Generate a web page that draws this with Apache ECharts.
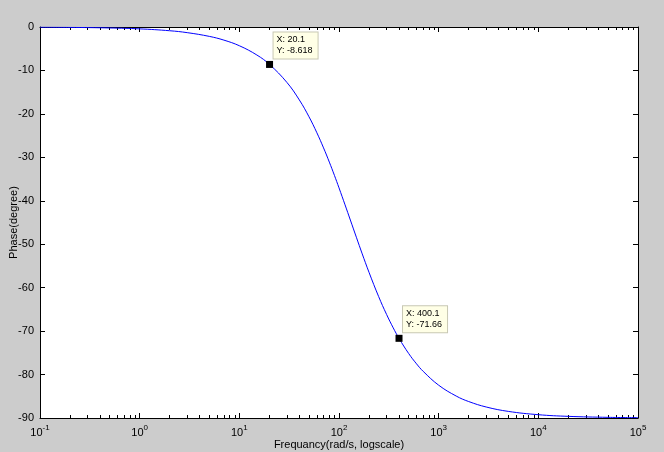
<!DOCTYPE html>
<html>
<head>
<meta charset="utf-8">
<script src="https://cdn.jsdelivr.net/npm/echarts@6/dist/echarts.min.js"></script>
<style>
html,body{margin:0;padding:0;background:#cccccc;}
#c{width:664px;height:452px;}
</style>
</head>
<body>
<div id="c"></div>
<script>
// Data
var freq = [0.1,0.2,0.5,1,2,3,5,7,10,15,20,30,40,50,60,70,80,90,100,115,130,150,170,200,250,300,350,400,500,600,700,1000,1500,2000,3000,5000,10000,20000,50000,100000];
var phase = [-0.04,-0.09,-0.22,-0.43,-0.86,-1.30,-2.16,-3.02,-4.31,-6.45,-8.58,-12.75,-16.79,-20.66,-24.35,-27.83,-31.10,-34.16,-37.02,-40.94,-44.43,-48.52,-52.05,-56.46,-62.06,-66.15,-69.25,-71.67,-75.15,-77.54,-79.27,-82.45,-84.95,-86.21,-87.47,-88.48,-89.24,-89.62,-89.85,-89.92];
var tipX = [20.1, 400.1];
var tipY = [-8.618, -71.66];
var decades = [0.1,1,10,100,1000,10000,100000];
var decadeExp = ['-1','0','1','2','3','4','5'];
var minorTicks = [];
[0.1,1,10,100,1000,10000].forEach(function(d){ for (var k=2;k<=9;k++) minorTicks.push(+(d*k).toPrecision(6)); });

var chart = echarts.init(document.getElementById('c'), null, {renderer:'canvas'});
var font = 'Liberation Sans, Arial, sans-serif';
function expLabel(v){
  var i = -1;
  for (var j=0;j<decades.length;j++){ if (Math.abs(Math.log10(v)-Math.log10(decades[j]))<1e-6) i=j; }
  if (i<0) return '';
  return '{b|10}{s|' + decadeExp[i] + '}';
}
var lineStyle = {color:'#000', width:1};
function xa(pos, major, labels){
  return {
    type:'log', logBase:10, min:0.1, max:100000, position:pos,
    axisLine:{show:major, lineStyle:lineStyle, onZero:false},
    axisTick:{show:true, inside:true, length: major?5:3, lineStyle:lineStyle,
      customValues: major ? decades : minorTicks},
    axisLabel:{show:labels, margin:6, customValues: decades, formatter: expLabel,
      rich:{b:{fontSize:11, fontFamily:font, color:'#000', lineHeight:14, verticalAlign:'bottom'},
            s:{fontSize:8, fontFamily:font, color:'#000', verticalAlign:'top', lineHeight:14}}},
    splitLine:{show:false},
    name: labels ? 'Frequancy(rad/s, logscale)' : '',
    nameLocation:'middle', nameGap:21, nameMoveOverlap:false,
    nameTextStyle:{fontSize:11, fontFamily:font, color:'#000'}
  };
}
var option = {
  backgroundColor:'#cccccc',
  animation:false,
  grid:{left:40, right:26, top:27, bottom:34, show:true, backgroundColor:'#ffffff', borderWidth:0,
        containLabel:false, outerBoundsMode:'none'},
  xAxis:[ xa('bottom', true, true), xa('bottom', false, false), xa('top', true, false), xa('top', false, false) ],
  yAxis:[
    {type:'value', min:-90, max:0, interval:10, position:'left',
     axisLine:{show:true, lineStyle:lineStyle, onZero:false},
     axisTick:{show:true, inside:true, length:5, lineStyle:lineStyle},
     axisLabel:{fontSize:11, fontFamily:font, color:'#000', margin:6},
     splitLine:{show:false},
     name:'Phase(degree)', nameLocation:'middle', nameGap:21, nameMoveOverlap:false,
     nameTextStyle:{fontSize:11, fontFamily:font, color:'#000'}},
    {type:'value', min:-90, max:0, interval:10, position:'right',
     axisLine:{show:true, lineStyle:lineStyle, onZero:false},
     axisTick:{show:true, inside:true, length:5, lineStyle:lineStyle},
     axisLabel:{show:false}, splitLine:{show:false}}
  ],
  series:[
    {type:'line', xAxisIndex:0, yAxisIndex:0, showSymbol:false, smooth:0.4,
     lineStyle:{color:'#0000ff', width:1}, z:5,
     data: freq.map(function(f,i){ return [f, phase[i]]; })},
    {type:'scatter', xAxisIndex:0, yAxisIndex:0, symbol:'rect', symbolSize:7, z:6,
     itemStyle:{color:'#000', opacity:1},
     label:{show:true, position:[7.5,-28.5], align:'left', verticalAlign:'top',
       fontSize:9, fontFamily:font, color:'#000', lineHeight:11,
       backgroundColor:'#ffffe6', borderColor:'#c8c8b4', borderWidth:1, padding:[2,5,2,3],
       formatter:function(p){ return 'X: ' + p.value[0] + '\nY: ' + p.value[1]; }},
     data: tipX.map(function(x,i){ return [x, tipY[i]]; })}
  ]
};
chart.setOption(option);
</script>
</body>
</html>
